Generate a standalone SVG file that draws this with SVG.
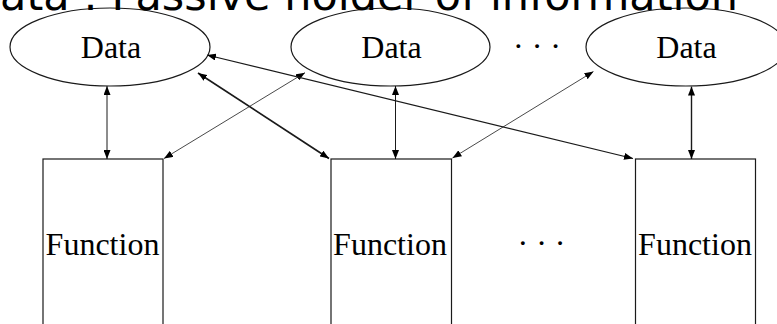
<svg xmlns="http://www.w3.org/2000/svg" width="777" height="324" viewBox="0 0 777 324">
  <style>
    .title { font-family: "DejaVu Sans", Verdana, sans-serif; font-size: 43px; fill: #000; }
    .lbl { font-family: "Liberation Serif", "Times New Roman", serif; font-size: 32px; fill: #000; text-anchor: middle; }
    .shape { fill: none; stroke: #1a1a1a; stroke-width: 1.2; }
    .link { fill: none; stroke: #1a1a1a; }
  </style>
  <defs>
    <marker id="head" markerUnits="userSpaceOnUse" markerWidth="9" markerHeight="7" refX="9" refY="3.5" orient="auto-start-reverse">
      <path d="M0,0 L9,3.5 L0,7 z" fill="#000"/>
    </marker>
  </defs>

  <rect width="777" height="324" fill="#fff"/>

  <!-- data holders -->
  <g id="data1">
    <ellipse class="shape" cx="110" cy="47" rx="100" ry="39"/>
    <text class="lbl" x="111" y="58">Data</text>
  </g>
  <g id="data2">
    <ellipse class="shape" cx="390.5" cy="47" rx="99.5" ry="39"/>
    <text class="lbl" x="391.5" y="58">Data</text>
  </g>
  <g id="data3">
    <ellipse class="shape" cx="686" cy="47" rx="100" ry="39"/>
    <text class="lbl" x="686.5" y="58">Data</text>
  </g>
  <g id="data-more">
    <text class="lbl" x="537" y="57">· · ·</text>
  </g>

  <!-- functions -->
  <g id="func1">
    <rect class="shape" x="43" y="159" width="120" height="200"/>
    <text class="lbl" x="102.5" y="255">Function</text>
  </g>
  <g id="func2">
    <rect class="shape" x="331" y="159" width="120.5" height="200"/>
    <text class="lbl" x="390" y="255">Function</text>
  </g>
  <g id="func3">
    <rect class="shape" x="635.5" y="159" width="120" height="200"/>
    <text class="lbl" x="695" y="255">Function</text>
  </g>
  <g id="func-more">
    <text class="lbl" x="541.5" y="254">· · ·</text>
  </g>

  <!-- connectors -->
  <g id="connectors">
    <line class="link" x1="107" y1="86" x2="107" y2="159" stroke-width="1" marker-start="url(#head)" marker-end="url(#head)"/>
    <line class="link" x1="395.5" y1="86" x2="395.5" y2="159" stroke-width="1" marker-start="url(#head)" marker-end="url(#head)"/>
    <line class="link" x1="691.5" y1="86.5" x2="691.5" y2="159" stroke-width="1.4" marker-start="url(#head)" marker-end="url(#head)"/>
    <line class="link" x1="305" y1="72.7" x2="164" y2="158.5" stroke-width="0.8" marker-start="url(#head)" marker-end="url(#head)"/>
    <line class="link" x1="198" y1="73" x2="329" y2="158.5" stroke-width="1.7" marker-start="url(#head)" marker-end="url(#head)"/>
    <line class="link" x1="207" y1="55" x2="633" y2="158.5" stroke-width="1.2" marker-start="url(#head)" marker-end="url(#head)"/>
    <line class="link" x1="593.5" y1="71.5" x2="452.5" y2="158" stroke-width="0.8" marker-start="url(#head)" marker-end="url(#head)"/>
  </g>

  <!-- heading, partly above the top edge -->
  <text class="title" x="-33" y="9.5">Data : Passive holder of information</text>
</svg>
